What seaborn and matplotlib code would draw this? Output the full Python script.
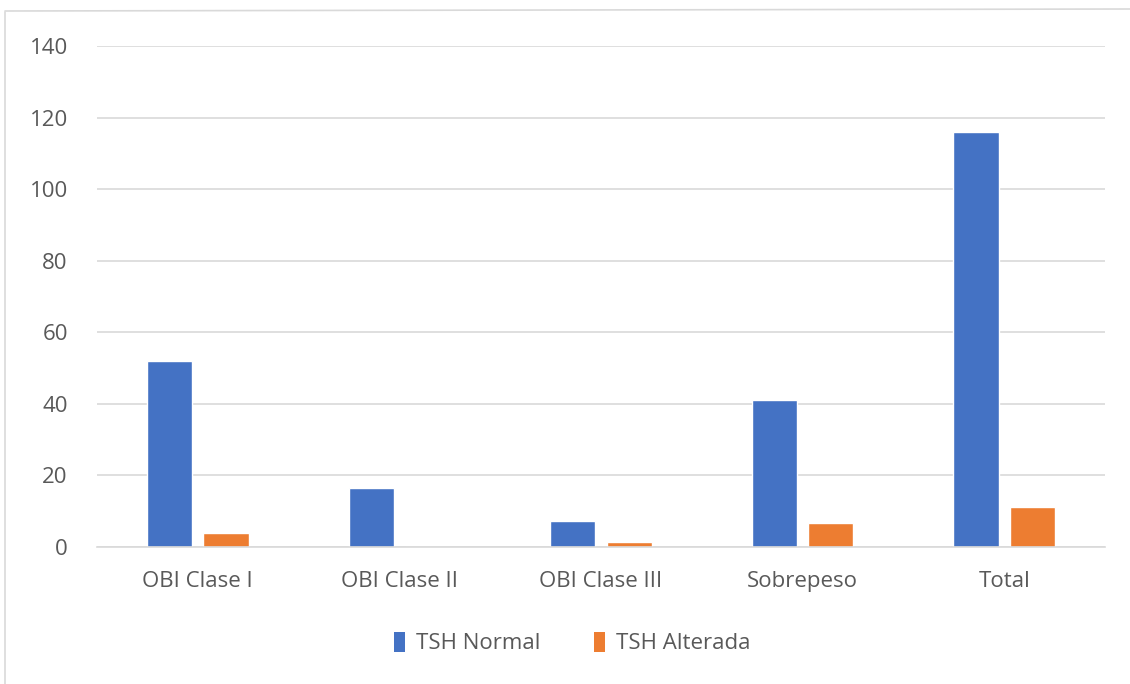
import matplotlib
matplotlib.use("Agg")
import matplotlib.pyplot as plt
import seaborn as sns
import pandas as pd
from matplotlib.lines import Line2D
from matplotlib.patches import Patch

categories = ["OBI Clase I", "OBI Clase II", "OBI Clase III", "Sobrepeso", "Total"]
tsh_normal = [52, 16.5, 7.3, 41, 116]
tsh_alterada = [4, 0, 1.4, 6.6, 11.2]
series_names = ["TSH Normal", "TSH Alterada"]
colors = ["#4472C4", "#ED7D31"]
yticks = [0, 20, 40, 60, 80, 100, 120, 140]

df = pd.DataFrame({
    "cat": categories * 2,
    "val": tsh_normal + tsh_alterada,
    "serie": [series_names[0]] * len(categories) + [series_names[1]] * len(categories),
})

sns.set_theme(style="white")
plt.rcParams["font.family"] = ["Open Sans", "DejaVu Sans"]
txt = "#595959"
fs = 16

fig = plt.figure(figsize=(11.3, 6.84), dpi=100)
ax = fig.add_axes([97/1130, 1-547/684, (1105-97)/1130, (547-46)/684])
sns.barplot(data=df, x="cat", y="val", hue="serie", palette=colors, ax=ax,
            width=0.56, gap=0.2, legend=False, saturation=1)
ax.set_ylim(0, 140)
ax.set_yticks(yticks)
ax.set_xlim(-0.5, len(categories) - 0.5)
ax.grid(axis="y", color="#d9d9d9", linewidth=1.2)
ax.set_axisbelow(True)
for s in ["top", "right", "left"]:
    ax.spines[s].set_visible(False)
ax.spines["bottom"].set_color("#d9d9d9")
ax.spines["bottom"].set_linewidth(1.2)
ax.set_xlabel("")
ax.set_ylabel("")
ax.tick_params(axis="y", length=0, pad=21, labelsize=fs, labelcolor=txt)
ax.tick_params(axis="x", length=0, pad=17, labelsize=fs, labelcolor=txt)

handles = [Patch(facecolor=c, edgecolor="none") for c in colors]
fig.legend(handles, series_names, loc="center", bbox_to_anchor=(572/1130, 1-643/684),
           ncol=2, frameon=False, fontsize=fs, labelcolor=txt,
           handlelength=0.5, handleheight=1.0, handletextpad=0.5, columnspacing=2.4)

fig.add_artist(Line2D([5/1130, 5/1130], [0, 1-12/684], color="#d9d9d9", lw=1.2, transform=fig.transFigure))
fig.add_artist(Line2D([5/1130, 1], [1-11/684, 1-9/684], color="#d9d9d9", lw=1.2, transform=fig.transFigure))

fig.savefig("out.png", dpi=100)
